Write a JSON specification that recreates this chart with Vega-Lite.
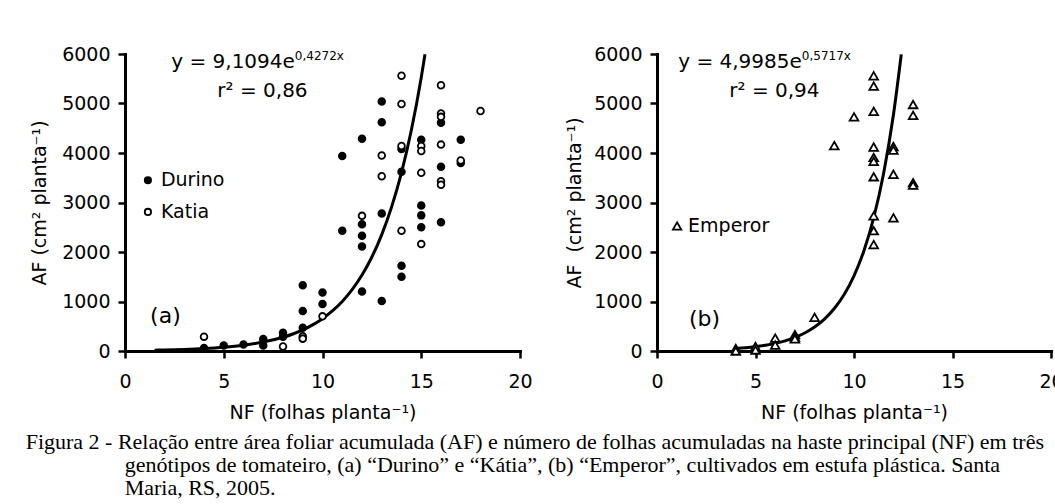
{
  "$schema": "https://vega.github.io/schema/vega-lite/v6.json",
  "background": "white",
  "padding": {"left": 25, "top": 45, "right": 0, "bottom": 0},
  "spacing": 32,
  "title": {
    "text": [
      "Figura 2 - Relação entre área foliar acumulada (AF) e número de folhas acumuladas na haste principal (NF) em três",
      "\u200b\u00a0\u00a0\u00a0\u00a0\u00a0\u00a0\u00a0\u00a0\u00a0\u00a0\u00a0\u00a0\u00a0\u00a0\u00a0\u00a0\u00a0\u00a0genótipos de tomateiro, (a) “Durino” e “Kátia”, (b) “Emperor”, cultivados em estufa plástica. Santa",
      "\u200b\u00a0\u00a0\u00a0\u00a0\u00a0\u00a0\u00a0\u00a0\u00a0\u00a0\u00a0\u00a0\u00a0\u00a0\u00a0\u00a0\u00a0\u00a0Maria, RS, 2005."
    ],
    "orient": "bottom",
    "anchor": "start",
    "offset": 10,
    "dx": -5,
    "font": "Liberation Serif",
    "fontSize": 22,
    "fontWeight": "normal",
    "lineHeight": 23,
    "color": "black"
  },
  "datasets": {
    "pts": [
      {"panel": "a", "cultivar": "Durino", "nf": 4, "af": 60},
      {"panel": "a", "cultivar": "Durino", "nf": 5, "af": 110},
      {"panel": "a", "cultivar": "Durino", "nf": 6, "af": 130},
      {"panel": "a", "cultivar": "Durino", "nf": 7, "af": 240},
      {"panel": "a", "cultivar": "Durino", "nf": 7, "af": 110},
      {"panel": "a", "cultivar": "Durino", "nf": 8, "af": 370},
      {"panel": "a", "cultivar": "Durino", "nf": 8, "af": 290},
      {"panel": "a", "cultivar": "Durino", "nf": 9, "af": 1330},
      {"panel": "a", "cultivar": "Durino", "nf": 9, "af": 810},
      {"panel": "a", "cultivar": "Durino", "nf": 9, "af": 470},
      {"panel": "a", "cultivar": "Durino", "nf": 10, "af": 1180},
      {"panel": "a", "cultivar": "Durino", "nf": 10, "af": 950},
      {"panel": "a", "cultivar": "Durino", "nf": 11, "af": 3940},
      {"panel": "a", "cultivar": "Durino", "nf": 11, "af": 2430},
      {"panel": "a", "cultivar": "Durino", "nf": 12, "af": 4290},
      {"panel": "a", "cultivar": "Durino", "nf": 12, "af": 2560},
      {"panel": "a", "cultivar": "Durino", "nf": 12, "af": 2330},
      {"panel": "a", "cultivar": "Durino", "nf": 12, "af": 2110},
      {"panel": "a", "cultivar": "Durino", "nf": 12, "af": 1200},
      {"panel": "a", "cultivar": "Durino", "nf": 13, "af": 5040},
      {"panel": "a", "cultivar": "Durino", "nf": 13, "af": 4620},
      {"panel": "a", "cultivar": "Durino", "nf": 13, "af": 2780},
      {"panel": "a", "cultivar": "Durino", "nf": 13, "af": 1010},
      {"panel": "a", "cultivar": "Durino", "nf": 14, "af": 4080},
      {"panel": "a", "cultivar": "Durino", "nf": 14, "af": 3620},
      {"panel": "a", "cultivar": "Durino", "nf": 14, "af": 1720},
      {"panel": "a", "cultivar": "Durino", "nf": 14, "af": 1500},
      {"panel": "a", "cultivar": "Durino", "nf": 15, "af": 4270},
      {"panel": "a", "cultivar": "Durino", "nf": 15, "af": 2940},
      {"panel": "a", "cultivar": "Durino", "nf": 15, "af": 2740},
      {"panel": "a", "cultivar": "Durino", "nf": 15, "af": 2500},
      {"panel": "a", "cultivar": "Durino", "nf": 16, "af": 4610},
      {"panel": "a", "cultivar": "Durino", "nf": 16, "af": 3720},
      {"panel": "a", "cultivar": "Durino", "nf": 16, "af": 2600},
      {"panel": "a", "cultivar": "Durino", "nf": 17, "af": 4270},
      {"panel": "a", "cultivar": "Durino", "nf": 17, "af": 3800},
      {"panel": "a", "cultivar": "Katia", "nf": 4, "af": 290},
      {"panel": "a", "cultivar": "Katia", "nf": 8, "af": 90},
      {"panel": "a", "cultivar": "Katia", "nf": 9, "af": 300},
      {"panel": "a", "cultivar": "Katia", "nf": 9, "af": 250},
      {"panel": "a", "cultivar": "Katia", "nf": 10, "af": 700},
      {"panel": "a", "cultivar": "Katia", "nf": 12, "af": 2730},
      {"panel": "a", "cultivar": "Katia", "nf": 13, "af": 3950},
      {"panel": "a", "cultivar": "Katia", "nf": 13, "af": 3530},
      {"panel": "a", "cultivar": "Katia", "nf": 14, "af": 5560},
      {"panel": "a", "cultivar": "Katia", "nf": 14, "af": 4990},
      {"panel": "a", "cultivar": "Katia", "nf": 14, "af": 4140},
      {"panel": "a", "cultivar": "Katia", "nf": 14, "af": 2430},
      {"panel": "a", "cultivar": "Katia", "nf": 15, "af": 4140},
      {"panel": "a", "cultivar": "Katia", "nf": 15, "af": 4040},
      {"panel": "a", "cultivar": "Katia", "nf": 15, "af": 3600},
      {"panel": "a", "cultivar": "Katia", "nf": 15, "af": 2160},
      {"panel": "a", "cultivar": "Katia", "nf": 16, "af": 5370},
      {"panel": "a", "cultivar": "Katia", "nf": 16, "af": 4800},
      {"panel": "a", "cultivar": "Katia", "nf": 16, "af": 4730},
      {"panel": "a", "cultivar": "Katia", "nf": 16, "af": 4170},
      {"panel": "a", "cultivar": "Katia", "nf": 16, "af": 3430},
      {"panel": "a", "cultivar": "Katia", "nf": 16, "af": 3360},
      {"panel": "a", "cultivar": "Katia", "nf": 17, "af": 3850},
      {"panel": "a", "cultivar": "Katia", "nf": 18, "af": 4850},
      {"panel": "b", "cultivar": "Emperor", "nf": 4, "af": 50},
      {"panel": "b", "cultivar": "Emperor", "nf": 4, "af": 0},
      {"panel": "b", "cultivar": "Emperor", "nf": 5, "af": 90},
      {"panel": "b", "cultivar": "Emperor", "nf": 5, "af": 20},
      {"panel": "b", "cultivar": "Emperor", "nf": 6, "af": 260},
      {"panel": "b", "cultivar": "Emperor", "nf": 6, "af": 120},
      {"panel": "b", "cultivar": "Emperor", "nf": 7, "af": 330},
      {"panel": "b", "cultivar": "Emperor", "nf": 7, "af": 280},
      {"panel": "b", "cultivar": "Emperor", "nf": 7, "af": 245},
      {"panel": "b", "cultivar": "Emperor", "nf": 8, "af": 680},
      {"panel": "b", "cultivar": "Emperor", "nf": 9, "af": 4150},
      {"panel": "b", "cultivar": "Emperor", "nf": 10, "af": 4730},
      {"panel": "b", "cultivar": "Emperor", "nf": 11, "af": 5560},
      {"panel": "b", "cultivar": "Emperor", "nf": 11, "af": 5350},
      {"panel": "b", "cultivar": "Emperor", "nf": 11, "af": 4840},
      {"panel": "b", "cultivar": "Emperor", "nf": 11, "af": 4120},
      {"panel": "b", "cultivar": "Emperor", "nf": 11, "af": 3910},
      {"panel": "b", "cultivar": "Emperor", "nf": 11, "af": 3830},
      {"panel": "b", "cultivar": "Emperor", "nf": 11, "af": 3520},
      {"panel": "b", "cultivar": "Emperor", "nf": 11, "af": 2730},
      {"panel": "b", "cultivar": "Emperor", "nf": 11, "af": 2430},
      {"panel": "b", "cultivar": "Emperor", "nf": 11, "af": 2150},
      {"panel": "b", "cultivar": "Emperor", "nf": 12, "af": 4130},
      {"panel": "b", "cultivar": "Emperor", "nf": 12, "af": 4060},
      {"panel": "b", "cultivar": "Emperor", "nf": 12, "af": 3570},
      {"panel": "b", "cultivar": "Emperor", "nf": 12, "af": 2690},
      {"panel": "b", "cultivar": "Emperor", "nf": 13, "af": 4980},
      {"panel": "b", "cultivar": "Emperor", "nf": 13, "af": 4760},
      {"panel": "b", "cultivar": "Emperor", "nf": 13, "af": 3400},
      {"panel": "b", "cultivar": "Emperor", "nf": 13, "af": 3350}
    ],
    "curves": [
      {"panel": "a", "nf": 1.5, "af": 17.3},
      {"panel": "a", "nf": 2, "af": 21.4},
      {"panel": "a", "nf": 3, "af": 32.8},
      {"panel": "a", "nf": 4, "af": 50.3},
      {"panel": "a", "nf": 5, "af": 77.1},
      {"panel": "a", "nf": 6, "af": 118.2},
      {"panel": "a", "nf": 7, "af": 181.2},
      {"panel": "a", "nf": 8, "af": 277.8},
      {"panel": "a", "nf": 8.5, "af": 344.0},
      {"panel": "a", "nf": 9, "af": 425.9},
      {"panel": "a", "nf": 9.5, "af": 527.3},
      {"panel": "a", "nf": 10, "af": 652.9},
      {"panel": "a", "nf": 10.5, "af": 808.3},
      {"panel": "a", "nf": 11, "af": 1000.9},
      {"panel": "a", "nf": 11.5, "af": 1239},
      {"panel": "a", "nf": 12, "af": 1534},
      {"panel": "a", "nf": 12.5, "af": 1899},
      {"panel": "a", "nf": 13, "af": 2352},
      {"panel": "a", "nf": 13.5, "af": 2912},
      {"panel": "a", "nf": 14, "af": 3605},
      {"panel": "a", "nf": 14.5, "af": 4464},
      {"panel": "a", "nf": 15, "af": 5527},
      {"panel": "a", "nf": 15.19, "af": 5994},
      {"panel": "b", "nf": 4, "af": 49.2},
      {"panel": "b", "nf": 4.5, "af": 65.5},
      {"panel": "b", "nf": 5, "af": 87.2},
      {"panel": "b", "nf": 5.5, "af": 116.0},
      {"panel": "b", "nf": 6, "af": 154.4},
      {"panel": "b", "nf": 6.5, "af": 205.4},
      {"panel": "b", "nf": 7, "af": 273.4},
      {"panel": "b", "nf": 7.5, "af": 363.9},
      {"panel": "b", "nf": 8, "af": 484.4},
      {"panel": "b", "nf": 8.5, "af": 644.6},
      {"panel": "b", "nf": 9, "af": 857.9},
      {"panel": "b", "nf": 9.5, "af": 1141.7},
      {"panel": "b", "nf": 10, "af": 1519.6},
      {"panel": "b", "nf": 10.5, "af": 2022},
      {"panel": "b", "nf": 11, "af": 2692},
      {"panel": "b", "nf": 11.5, "af": 3582},
      {"panel": "b", "nf": 12, "af": 4768},
      {"panel": "b", "nf": 12.4, "af": 5993}
    ],
    "legendA": [
      {"cultivar": "Durino", "lx": 1.16, "ly": 3450},
      {"cultivar": "Katia", "lx": 1.16, "ly": 2810}
    ],
    "legendB": [
      {"cultivar": "Emperor", "lx": 1.02, "ly": 2525}
    ]
  },
  "resolve": {
    "scale": {"x": "independent", "y": "independent", "fill": "independent"}
  },
  "config": {
    "view": {"stroke": null},
    "axis": {
      "domainColor": "black", "domainWidth": 3, "domainCap": "square",
      "tickColor": "black", "tickWidth": 2.5, "tickSize": 7,
      "labelFont": "DejaVu Sans", "labelFontSize": 19, "labelColor": "black",
      "labelFlush": false, "labelOverlap": false,
      "titleFont": "DejaVu Sans", "titleFontSize": 19, "titleFontWeight": "normal", "titleColor": "black",
      "grid": false
    },
    "axisX": {"labelPadding": 14, "titlePadding": 12},
    "axisY": {"labelPadding": 8, "titlePadding": 12},
    "text": {"font": "DejaVu Sans", "color": "black"}
  },
  "hconcat": [
    {
      "width": 395,
      "height": 297,
      "layer": [
        {
          "data": {"name": "curves"},
          "transform": [{"filter": "datum.panel === 'a'"}],
          "mark": {"type": "line", "color": "black", "strokeWidth": 3, "interpolate": "monotone"},
          "encoding": {
            "x": {"field": "nf", "type": "quantitative", "scale": {"domain": [0, 20], "nice": false},
                  "axis": {"title": "NF (folhas planta⁻¹)", "values": [0, 5, 10, 15, 20], "format": "d"}},
            "y": {"field": "af", "type": "quantitative", "scale": {"domain": [0, 6000], "nice": false},
                  "axis": {"title": "AF (cm² planta⁻¹)", "values": [0, 1000, 2000, 3000, 4000, 5000, 6000], "format": "d"}}
          }
        },
        {
          "data": {"name": "pts"},
          "transform": [{"filter": "datum.panel === 'a'"}],
          "mark": {"type": "point", "stroke": "black", "strokeWidth": 1.8, "size": 45, "opacity": 1, "filled": true},
          "encoding": {
            "x": {"field": "nf", "type": "quantitative"},
            "y": {"field": "af", "type": "quantitative"},
            "fill": {"field": "cultivar", "type": "nominal",
                     "scale": {"domain": ["Durino", "Katia"], "range": ["black", "white"]},
                     "legend": null}
          }
        },
        {
          "data": {"name": "legendA"},
          "mark": {"type": "point", "stroke": "black", "strokeWidth": 1.8, "size": 40, "opacity": 1, "filled": true},
          "encoding": {
            "x": {"field": "lx", "type": "quantitative"},
            "y": {"field": "ly", "type": "quantitative"},
            "fill": {"field": "cultivar", "type": "nominal", "legend": null}
          }
        },
        {
          "data": {"name": "legendA"},
          "mark": {"type": "text", "fontSize": 19, "align": "left", "baseline": "middle", "dx": 13},
          "encoding": {
            "x": {"field": "lx", "type": "quantitative"},
            "y": {"field": "ly", "type": "quantitative"},
            "text": {"field": "cultivar"}
          }
        },
        {
          "data": {"values": [{"label": "(a)"}]},
          "mark": {"type": "text", "fontSize": 22, "align": "left", "baseline": "middle"},
          "encoding": {"x": {"datum": 1.27}, "y": {"datum": 700}, "text": {"field": "label"}}
        },
        {
          "data": {"values": [{"label": "y = 9,1094e"}]},
          "mark": {"type": "text", "fontSize": 20, "align": "right", "baseline": "alphabetic"},
          "encoding": {"x": {"datum": 8.6}, "y": {"datum": 5717}, "text": {"field": "label"}}
        },
        {
          "data": {"values": [{"label": "0,4272x"}]},
          "mark": {"type": "text", "fontSize": 12, "align": "left", "baseline": "alphabetic"},
          "encoding": {"x": {"datum": 8.6}, "y": {"datum": 5870}, "text": {"field": "label"}}
        },
        {
          "data": {"values": [{"label": "r² = 0,86"}]},
          "mark": {"type": "text", "fontSize": 20, "align": "center", "baseline": "alphabetic"},
          "encoding": {"x": {"datum": 6.96}, "y": {"datum": 5131}, "text": {"field": "label"}}
        }
      ]
    },
    {
      "width": 394,
      "height": 297,
      "layer": [
        {
          "data": {"name": "curves"},
          "transform": [{"filter": "datum.panel === 'b'"}],
          "mark": {"type": "line", "color": "black", "strokeWidth": 3, "interpolate": "monotone"},
          "encoding": {
            "x": {"field": "nf", "type": "quantitative", "scale": {"domain": [0, 20], "nice": false},
                  "axis": {"title": "NF (folhas planta⁻¹)", "values": [0, 5, 10, 15, 20], "format": "d"}},
            "y": {"field": "af", "type": "quantitative", "scale": {"domain": [0, 6000], "nice": false},
                  "axis": {"title": "AF\u00a0 (cm² planta⁻¹)", "titlePadding": 9, "values": [0, 1000, 2000, 3000, 4000, 5000, 6000], "format": "d"}}
          }
        },
        {
          "data": {"name": "pts"},
          "transform": [{"filter": "datum.panel === 'b'"}],
          "mark": {"type": "point", "shape": "triangle-up", "stroke": "black", "strokeWidth": 1.8, "size": 75, "fill": "white", "filled": true, "opacity": 1},
          "encoding": {
            "x": {"field": "nf", "type": "quantitative"},
            "y": {"field": "af", "type": "quantitative"}
          }
        },
        {
          "data": {"name": "legendB"},
          "mark": {"type": "point", "shape": "triangle-up", "stroke": "black", "strokeWidth": 1.8, "size": 70, "fill": "white", "filled": true, "opacity": 1},
          "encoding": {
            "x": {"field": "lx", "type": "quantitative"},
            "y": {"field": "ly", "type": "quantitative"}
          }
        },
        {
          "data": {"name": "legendB"},
          "mark": {"type": "text", "fontSize": 19, "align": "left", "baseline": "middle", "dx": 11},
          "encoding": {
            "x": {"field": "lx", "type": "quantitative"},
            "y": {"field": "ly", "type": "quantitative"},
            "text": {"field": "cultivar"}
          }
        },
        {
          "data": {"values": [{"label": "(b)"}]},
          "mark": {"type": "text", "fontSize": 22, "align": "left", "baseline": "middle"},
          "encoding": {"x": {"datum": 1.62}, "y": {"datum": 640}, "text": {"field": "label"}}
        },
        {
          "data": {"values": [{"label": "y = 4,9985e"}]},
          "mark": {"type": "text", "fontSize": 20, "align": "right", "baseline": "alphabetic"},
          "encoding": {"x": {"datum": 7.35}, "y": {"datum": 5717}, "text": {"field": "label"}}
        },
        {
          "data": {"values": [{"label": "0,5717x"}]},
          "mark": {"type": "text", "fontSize": 12, "align": "left", "baseline": "alphabetic"},
          "encoding": {"x": {"datum": 7.35}, "y": {"datum": 5870}, "text": {"field": "label"}}
        },
        {
          "data": {"values": [{"label": "r² = 0,94"}]},
          "mark": {"type": "text", "fontSize": 20, "align": "center", "baseline": "alphabetic"},
          "encoding": {"x": {"datum": 5.96}, "y": {"datum": 5131}, "text": {"field": "label"}}
        }
      ]
    }
  ]
}
